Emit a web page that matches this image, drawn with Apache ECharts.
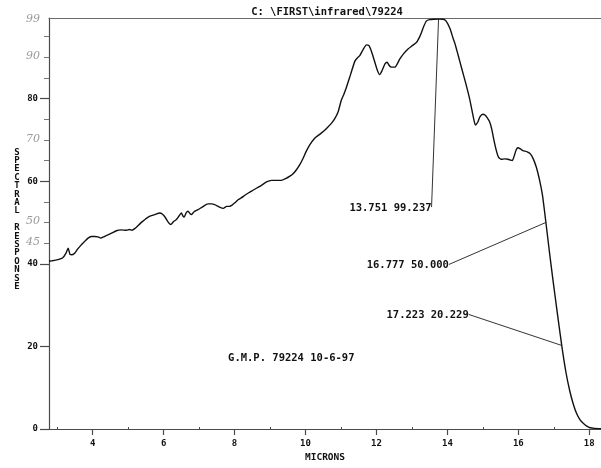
<!DOCTYPE html>
<html>
<head>
<meta charset="utf-8">
<script src="https://cdn.jsdelivr.net/npm/echarts@6/dist/echarts.min.js"></script>
<style>
  html, body { margin: 0; padding: 0; background: #ffffff; }
  #chart { width: 601px; height: 468px; }
</style>
</head>
<body>
<div id="chart"></div>
<script>
// Infrared spectral response trace, sample 79224
const wavelength = [
  2.77, 2.90, 3.02, 3.15, 3.25, 3.31, 3.36, 3.42, 3.50, 3.58, 3.66, 3.76, 3.87, 3.96,
  4.06, 4.15, 4.23, 4.33, 4.43, 4.55, 4.67, 4.80, 4.95, 5.04, 5.11, 5.20, 5.30, 5.40,
  5.50, 5.60, 5.75, 5.89, 5.97, 6.05, 6.12, 6.20, 6.28, 6.36, 6.43, 6.50, 6.55, 6.58,
  6.64, 6.69, 6.74, 6.78, 6.86, 6.97, 7.10, 7.25, 7.36, 7.44, 7.56, 7.68, 7.78, 7.86,
  7.93, 8.00, 8.10, 8.20, 8.29, 8.40, 8.52, 8.64, 8.76, 8.90, 9.04, 9.18, 9.32, 9.44,
  9.56, 9.65, 9.74, 9.84, 9.93, 10.02, 10.12, 10.26, 10.38, 10.50, 10.62, 10.73, 10.83,
  10.92, 11.01, 11.08, 11.15, 11.27, 11.39, 11.46, 11.53, 11.62, 11.72, 11.79, 11.86,
  11.94, 12.02, 12.09, 12.16, 12.24, 12.30, 12.36, 12.42, 12.52, 12.60, 12.66, 12.78,
  12.89, 13.01, 13.13, 13.22, 13.27, 13.34, 13.41, 13.50, 13.62, 13.751, 13.88, 13.96,
  14.07, 14.16, 14.21, 14.30, 14.40, 14.52, 14.63, 14.72, 14.79, 14.85, 14.92, 15.00,
  15.06, 15.12, 15.19, 15.25, 15.31, 15.38, 15.44, 15.52, 15.62, 15.71, 15.78, 15.83,
  15.88, 15.94, 15.99, 16.06, 16.13, 16.25, 16.34, 16.42, 16.51, 16.60, 16.68, 16.777,
  16.88, 16.98, 17.10, 17.223, 17.34, 17.45, 17.55, 17.64, 17.74, 17.83, 17.93, 18.02,
  18.15, 18.33
];
const response = [
  40.6, 40.8, 41.0, 41.4, 42.6, 43.8, 42.3, 42.2, 42.6, 43.6, 44.4, 45.3, 46.2, 46.6,
  46.6, 46.5, 46.2, 46.6, 47.0, 47.5, 48.0, 48.2, 48.1, 48.3, 48.1, 48.6, 49.4, 50.2,
  50.9, 51.5, 51.9, 52.3, 52.0, 51.2, 50.2, 49.5, 50.2, 50.7, 51.5, 52.3, 51.5, 51.3,
  52.4, 52.7, 52.2, 51.9, 52.6, 53.1, 53.8, 54.5, 54.5, 54.3, 53.8, 53.4, 53.9, 53.9,
  54.2, 54.7, 55.5, 56.0, 56.6, 57.2, 57.8, 58.4, 59.0, 59.8, 60.2, 60.2, 60.2, 60.6,
  61.2, 61.8, 62.7, 64.0, 65.5, 67.2, 68.8, 70.4, 71.2, 72.0, 73.0, 74.0, 75.2,
  76.8, 79.6, 81.0, 82.6, 85.8, 89.0, 89.8, 90.4, 91.8, 93.0, 92.8, 91.4,
  89.2, 87.0, 85.8, 86.8, 88.4, 88.8, 88.0, 87.6, 87.6, 88.6, 89.6, 91.0,
  92.0, 92.8, 93.6, 95.0, 96.0, 97.6, 98.8, 99.1, 99.2, 99.237, 99.2, 98.8,
  97.0, 94.6, 93.4, 90.6, 87.4, 83.6, 79.8, 76.0, 73.6, 74.2, 75.6, 76.2,
  76.0, 75.4, 74.4, 72.6, 70.0, 67.4, 65.8, 65.3, 65.4, 65.3, 65.1, 65.0,
  66.0, 67.6, 68.1, 67.8, 67.4, 67.1, 66.6, 65.4, 63.3, 60.2, 56.6, 50.0,
  42.6, 35.8, 28.0, 20.229, 13.8, 9.2, 6.0, 3.8, 2.2, 1.4, 0.7, 0.3,
  0.15, 0.1
];

// Axis ticks and labels
const xMajorTicks = [4, 6, 8, 10, 12, 14, 16, 18];
const xMinorTicks = [3, 5, 7, 9, 11, 13, 15, 17];
const yMajorTicks = [0, 20, 40, 60, 80];
const yMinorTicks = [45, 50, 55, 65, 70, 75, 85, 90, 95];

// Cursor readouts marked on the trace
const markWavelength = [13.751, 16.777, 17.223];
const markResponse = [99.237, 50.000, 20.229];

// Pencilled reference values beside the response axis
const pencilValues = [99, 90, 70, 50, 45];

const titleText = 'C: \\FIRST\\infrared\\79224';
const sampleText = 'G.M.P. 79224 10-6-97';
const xName = 'MICRONS';
const yName = 'SPECTRAL  RESPONSE';

const X_MIN = 2.77, X_MAX = 18.33, Y_MIN = 0, Y_MAX = 99.5;
const plotFont = '"DejaVu Sans Mono", "Liberation Mono", monospace';
const ink = '#111';
const axisInk = '#4a4a4a';

// pixel offsets of each readout's label end from its point on the trace
const readoutOffsets = [[-7, 188], [-97, 42], [-93, -31]];

const chart = echarts.init(document.getElementById('chart'), null, { renderer: 'canvas' });

const grid = { left: 49, right: 0, top: 18, bottom: 35 };

chart.setOption({
  animation: false,
  backgroundColor: '#ffffff',
  grid: grid,
  xAxis: [
    {
      type: 'value', min: X_MIN, max: X_MAX, position: 'bottom',
      axisLine: { show: true, lineStyle: { color: axisInk, width: 1.2 } },
      axisTick: { show: true, customValues: xMajorTicks, length: 6, lineStyle: { color: axisInk, width: 1.2 } },
      axisLabel: { customValues: xMajorTicks, margin: 10, color: ink, fontFamily: plotFont, fontWeight: 'bold', fontSize: 9 },
      splitLine: { show: false },
      name: xName, nameLocation: 'middle', nameGap: 24,
      nameTextStyle: { color: ink, fontFamily: plotFont, fontWeight: 'bold', fontSize: 9.5 }
    },
    {
      type: 'value', min: X_MIN, max: X_MAX, position: 'bottom',
      axisLine: { show: false },
      axisTick: { show: true, customValues: xMinorTicks, inside: true, length: 2, lineStyle: { color: axisInk, width: 1 } },
      axisLabel: { show: false },
      splitLine: { show: false }
    },
    {
      type: 'value', min: X_MIN, max: X_MAX, position: 'top',
      axisLine: { show: true, lineStyle: { color: '#6a6a6a', width: 1.2 } },
      axisTick: { show: false }, axisLabel: { show: false }, splitLine: { show: false }
    }
  ],
  yAxis: [
    {
      type: 'value', min: Y_MIN, max: Y_MAX, position: 'left',
      axisLine: { show: true, lineStyle: { color: axisInk, width: 1.2 } },
      axisTick: { show: true, customValues: yMajorTicks, length: 9, lineStyle: { color: axisInk, width: 1.2 } },
      axisLabel: { customValues: yMajorTicks, margin: 11, color: ink, fontFamily: plotFont, fontWeight: 'bold', fontSize: 9 },
      splitLine: { show: false }
    },
    {
      type: 'value', min: Y_MIN, max: Y_MAX, position: 'left',
      axisLine: { show: false },
      axisTick: { show: true, customValues: yMinorTicks, length: 5, lineStyle: { color: '#777', width: 1 } },
      axisLabel: { show: false },
      splitLine: { show: false }
    }
  ],
  series: [{
    type: 'line',
    xAxisIndex: 0, yAxisIndex: 0,
    data: wavelength.map((w, i) => [w, response[i]]),
    showSymbol: false,
    smooth: 0.2,
    lineStyle: { color: ink, width: 1.4 }
  }]
});

// Readout leader lines, labels and annotations placed through the axis scales
const toPx = (x, y) => chart.convertToPixel({ xAxisIndex: 0, yAxisIndex: 0 }, [x, y]);
const graphics = [];

const origin = toPx(X_MIN, Y_MIN);
const right = toPx(X_MAX, Y_MAX);
const centerX = (origin[0] + right[0]) / 2;

graphics.push({
  type: 'text', silent: true,
  style: { text: titleText, x: centerX + 2, y: 12, font: 'bold 10.5px ' + plotFont, fill: ink, align: 'center', verticalAlign: 'middle', textAlign: 'center', textVerticalAlign: 'middle' }
});

graphics.push({
  type: 'text', silent: true,
  style: {
    text: yName.split('').join('\n').replace(/\n \n \n/, '\n\n'),
    x: 17, y: 148, font: 'bold 9px ' + plotFont, fill: ink, lineHeight: 8.4,
    align: 'center', verticalAlign: 'top', textAlign: 'center', textVerticalAlign: 'top'
  }
});

const sampleAt = toPx(9.6, 17.2);
graphics.push({
  type: 'text', silent: true,
  style: { text: sampleText, x: sampleAt[0], y: sampleAt[1], font: 'bold 10.5px ' + plotFont, fill: ink, align: 'center', verticalAlign: 'middle', textAlign: 'center', textVerticalAlign: 'middle' }
});

markWavelength.forEach((w, i) => {
  const p = toPx(w, markResponse[i]);
  const a = [p[0] + readoutOffsets[i][0], p[1] + readoutOffsets[i][1]];
  graphics.push({
    type: 'line', silent: true,
    shape: { x1: a[0], y1: a[1], x2: p[0], y2: p[1] },
    style: { stroke: '#333', lineWidth: 1 }
  });
  graphics.push({
    type: 'text', silent: true,
    style: {
      text: w.toFixed(3) + ' ' + markResponse[i].toFixed(3),
      x: a[0], y: a[1] + 1, font: 'bold 10.5px ' + plotFont, fill: ink,
      align: 'right', verticalAlign: 'middle', textAlign: 'right', textVerticalAlign: 'middle'
    }
  });
});

pencilValues.forEach(v => {
  const p = toPx(X_MIN, v);
  graphics.push({
    type: 'text', silent: true,
    style: {
      text: String(v), x: 33, y: p[1] - 1, font: 'italic 11px "DejaVu Serif", serif', fill: '#9a9a9a',
      align: 'center', verticalAlign: 'middle', textAlign: 'center', textVerticalAlign: 'middle'
    }
  });
});

chart.setOption({ graphic: graphics });
</script>
</body>
</html>
